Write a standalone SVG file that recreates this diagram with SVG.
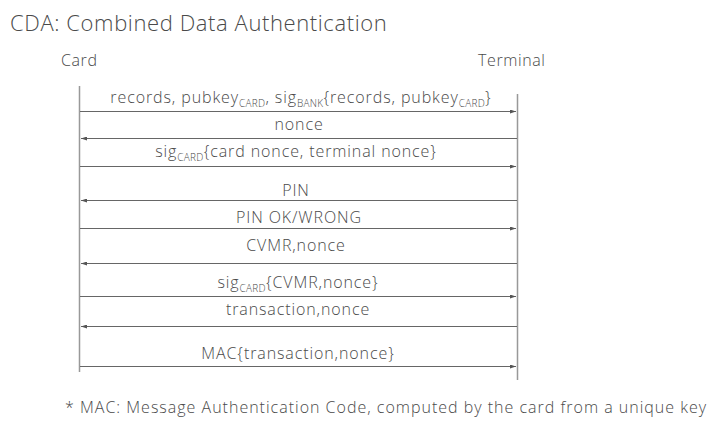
<svg xmlns="http://www.w3.org/2000/svg" width="713" height="423" viewBox="0 0 713 423">
<style>
text{font-family:"Open Sans",Lato,"Liberation Sans",sans-serif;fill:#4a4a4a;font-weight:300;}
.t{font-size:22px;letter-spacing:0.6px;}
.h{font-size:16px;letter-spacing:0.6px;}
.m{font-size:16px;text-anchor:middle;letter-spacing:0.9px;}
.s{font-size:10px;letter-spacing:0.3px;}
.f{font-size:16px;letter-spacing:1px;}
.life{stroke:#999;stroke-width:1.5;fill:none;}
.msg{stroke:#666;stroke-width:1;fill:none;marker-end:url(#ah);}
</style>
<defs>
<marker id="ah" viewBox="0 0 6 4" refX="6" refY="2" markerWidth="6" markerHeight="4" markerUnits="userSpaceOnUse" orient="auto">
<path d="M0,0 L6,2 L0,4 z" fill="#555"/>
</marker>
</defs>
<rect width="713" height="423" fill="#fff"/>
<text class="t" x="10" y="31">CDA: Combined Data Authentication</text>
<g id="card"><text class="h" x="61" y="66">Card</text><line class="life" x1="79.5" y1="86" x2="79.5" y2="372"/></g>
<g id="terminal"><text class="h" x="478" y="66">Terminal</text><line class="life" x1="517.5" y1="94" x2="517.5" y2="380"/></g>
<g id="connectors">
<line class="msg" x1="80" y1="111.5" x2="516" y2="111.5"/>
<line class="msg" x1="517" y1="138.5" x2="81" y2="138.5"/>
<line class="msg" x1="80" y1="166.5" x2="516" y2="166.5"/>
<line class="msg" x1="517" y1="200.5" x2="81" y2="200.5"/>
<line class="msg" x1="80" y1="228.5" x2="516" y2="228.5"/>
<line class="msg" x1="517" y1="263.5" x2="81" y2="263.5"/>
<line class="msg" x1="80" y1="296.5" x2="516" y2="296.5"/>
<line class="msg" x1="517" y1="326.5" x2="81" y2="326.5"/>
<line class="msg" x1="80" y1="366.5" x2="516" y2="366.5"/>
</g>
<g id="labels">
<text class="m" x="301" y="103">records, pubkey<tspan class="s" dy="4">CARD</tspan><tspan dy="-4">, sig</tspan><tspan class="s" dy="4">BANK</tspan><tspan dy="-4">{records, pubkey</tspan><tspan class="s" dy="4">CARD</tspan><tspan dy="-4">}</tspan></text>
<text class="m" x="299" y="130">nonce</text>
<text class="m" x="296" y="157">sig<tspan class="s" dy="4">CARD</tspan><tspan dy="-4">{card nonce, terminal nonce}</tspan></text>
<text class="m" x="296" y="196">PIN</text>
<text class="m" x="299" y="223">PIN OK/WRONG</text>
<text class="m" x="296" y="251">CVMR,nonce</text>
<text class="m" x="298" y="288">sig<tspan class="s" dy="4">CARD</tspan><tspan dy="-4">{CVMR,nonce}</tspan></text>
<text class="m" x="298" y="315">transaction,nonce</text>
<text class="m" x="298" y="359">MAC{transaction,nonce}</text>
<text class="f" x="65" y="413">* MAC: Message Authentication Code, computed by the card from a unique key</text>
</g>
</svg>
